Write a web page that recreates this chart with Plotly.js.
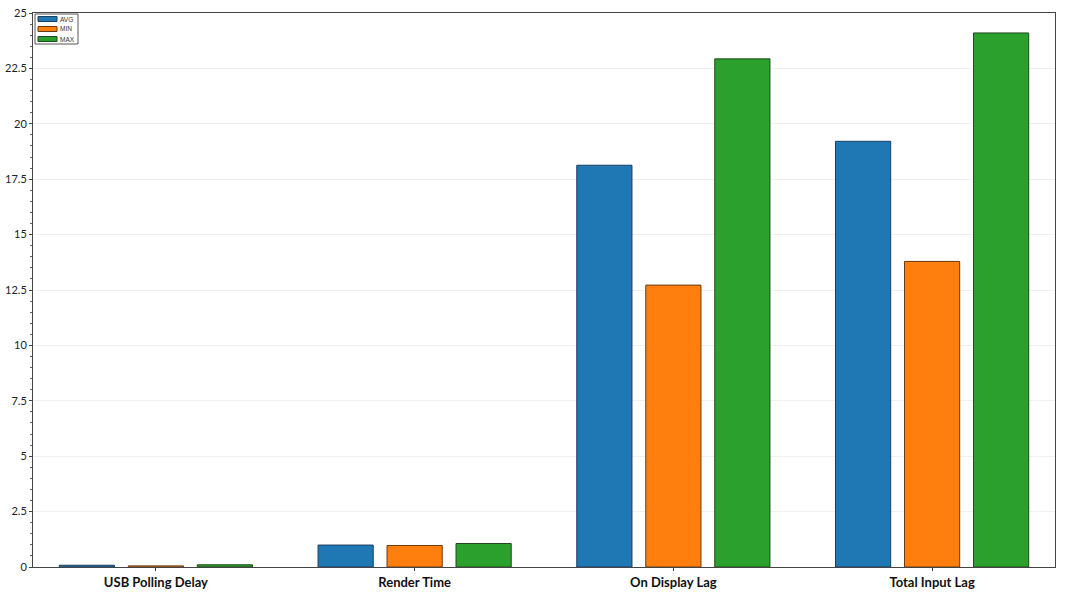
<!DOCTYPE html>
<html>
<head>
<meta charset="utf-8">
<script src="https://cdn.plot.ly/plotly-3.0.1.min.js"></script>
<style>html,body{margin:0;padding:0;background:#fff;}#chart{width:1066px;height:600px;}</style>
</head>
<body>
<div id="chart"></div>
<script>
const categories = ["USB Polling Delay", "Render Time", "On Display Lag", "Total Input Lag"];
const seriesNames = ["AVG", "MIN", "MAX"];
const avgValues = [0.08, 0.99, 18.13, 19.21];
const minValues = [0.05, 0.97, 12.72, 13.79];
const maxValues = [0.10, 1.06, 22.93, 24.10];
const yTickVals = [0, 2.5, 5, 7.5, 10, 12.5, 15, 17.5, 20, 22.5, 25];
const yTickText = ["0", "2.5", "5", "7.5", "10", "12.5", "15", "17.5", "20", "22.5", "25"];

const fills = ["#1f77b4", "#ff7f0e", "#2ca02c"];
const lines = ["#1d3f5e", "#6b3a10", "#1f4a1f"];
const valueSets = [avgValues, minValues, maxValues];

const data = seriesNames.map((n, i) => ({
  type: "bar", name: n, x: categories, y: valueSets[i],
  marker: {color: fills[i], line: {color: lines[i], width: 1}}
}));

// compact legend drawn in paper coordinates (plot area: 1022 x 554 px)
const W = 1022, H = 554;
const shapes = [{type: "rect", xref: "paper", yref: "paper",
  x0: 2 / W, x1: 45 / W, y0: 1 - 31 / H, y1: 1 - 1 / H,
  line: {color: "#555", width: 1}, fillcolor: "#fff", layer: "above"}];
const annotations = [];
seriesNames.forEach((n, i) => {
  const cy = 1 - (6 + 10 * i) / H;
  shapes.push({type: "rect", xref: "paper", yref: "paper",
    x0: 5 / W, x1: 24 / W, y0: cy - 2.5 / H, y1: cy + 2.5 / H,
    line: {color: lines[i], width: 1}, fillcolor: fills[i], layer: "above"});
  annotations.push({xref: "paper", yref: "paper", x: 25 / W, y: cy,
    xanchor: "left", yanchor: "middle", showarrow: false, text: n,
    font: {family: "Liberation Sans, Arial", size: 6.5, color: "#333"}});
});

const layout = {
  width: 1066, height: 600,
  margin: {l: 33, r: 11, t: 13, b: 33},
  paper_bgcolor: "#fff", plot_bgcolor: "#fff",
  barmode: "group", bargap: 0.2, bargroupgap: 0.2,
  showlegend: false,
  shapes: shapes, annotations: annotations,
  xaxis: {range: [-0.475, 3.475], showline: true, linecolor: "#444", linewidth: 1, mirror: true,
    ticks: "outside", ticklen: 3, tickcolor: "#444",
    tickfont: {family: "Lato, Liberation Sans, Arial", size: 13, color: "#111", weight: "bold"},
    showgrid: false},
  yaxis: {range: [0, 25], showline: true, linecolor: "#444", linewidth: 1, mirror: true,
    tickmode: "array", tickvals: yTickVals, ticktext: yTickText,
    ticks: "outside", ticklen: 3, tickcolor: "#444",
    tickfont: {family: "Lato, Liberation Sans, Arial", size: 11, color: "#222"},
    showgrid: true, gridcolor: "#f0f0f0", gridwidth: 1, zeroline: false,
    minor: {dtick: 0.5, ticks: "outside", ticklen: 2, tickcolor: "#666", showgrid: false}}
};
Plotly.newPlot("chart", data, layout, {displayModeBar: false, staticPlot: true});
</script>
</body>
</html>
